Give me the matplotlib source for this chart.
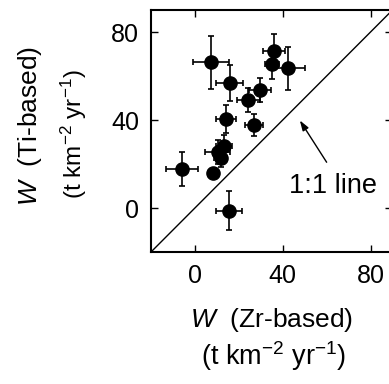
import matplotlib
matplotlib.use("Agg")
import matplotlib.pyplot as plt
import numpy as np

plt.rcParams["font.family"] = ["Liberation Sans", "DejaVu Sans"]
plt.rcParams["mathtext.fontset"] = "custom"
plt.rcParams["mathtext.rm"] = "Liberation Sans"
plt.rcParams["mathtext.it"] = "Liberation Sans:italic"

# W estimates (t km^-2 yr^-1), Zr-based (x) vs Ti-based (y)
w_zr = [7.3, 36.1, 35.2, 42.2, 15.9, 29.6, 24.3, 14.1, 26.9, 13.2, 10.3, 11.8, 8.3, -5.8, 15.5]
w_zr_err = [8.2, 4.9, 3.3, 7.8, 6.2, 4.9, 5.2, 4.7, 4.3, 3.5, 5.8, 3.0, 0.0, 7.2, 6.1]
w_ti = [66.2, 71.5, 65.5, 63.5, 56.8, 53.6, 49.1, 40.5, 37.7, 28.3, 25.3, 22.6, 15.9, 17.7, -1.2]
w_ti_err = [12.0, 7.6, 6.8, 9.8, 8.1, 5.5, 5.5, 6.4, 5.0, 5.0, 5.5, 4.0, 0.0, 7.6, 8.9]

ticks = [0, 40, 80]
lims = (-20, 90)

fig = plt.figure(figsize=(3.89, 3.84), dpi=100)
ax = fig.add_axes([151 / 389, 1 - 252 / 384, 241.5 / 389, 242 / 384])

ax.plot(lims, lims, color="black", lw=1.0)
ax.errorbar(w_zr, w_ti, xerr=w_zr_err, yerr=w_ti_err, fmt="o", color="black",
            ms=9.5, elinewidth=1.2, capsize=2.5, capthick=1.2)

ax.annotate("", xy=(47.8, 39.8), xytext=(60, 20.8),
            arrowprops=dict(arrowstyle="-|>,head_length=0.6,head_width=0.2",
                            color="black", lw=1.0, shrinkA=0, shrinkB=0))
ax.text(62.8, 10.1, "1:1 line", fontsize=19.5, ha="center", va="center")

ax.set_xlim(lims)
ax.set_ylim(lims)
ax.set_xticks(ticks)
ax.set_yticks(ticks)
ax.tick_params(direction="in", length=5, width=1.0, labelsize=18,
               top=True, right=True, pad=8.5)
for s in ax.spines.values():
    s.set_linewidth(1.5)

fig.text(272 / 389, 1 - 320 / 384, r"$W$  (Zr-based)", fontsize=19,
         ha="center", va="center")
fig.text(273.5 / 389, 1 - 356 / 384, r"(t km$^{-2}$ yr$^{-1}$)", fontsize=19.5,
         ha="center", va="center")
fig.text(30 / 389, 1 - 126 / 384, r"$W$  (Ti-based)", fontsize=19,
         ha="center", va="center", rotation=90)
fig.text(74 / 389, 1 - 134 / 384, r"(t km$^{-2}$ yr$^{-1}$)", fontsize=17.5,
         ha="center", va="center", rotation=90)

fig.savefig("out.png", dpi=100)
